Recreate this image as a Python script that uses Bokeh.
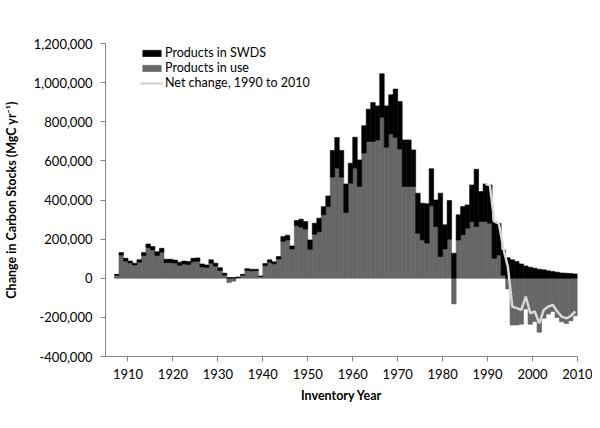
from bokeh.plotting import figure
from bokeh.models import ColumnDataSource, Range1d, NumeralTickFormatter, FixedTicker, Legend, LegendItem
from bokeh.transform import dodge
from bokeh.embed import file_html
from bokeh.resources import INLINE

years = list(range(1908, 2011))

products_in_use = [
    15000, 119000, 88000, 78000, 68000, 82000, 116000, 157000, 145000, 116000,
    133000, 80000, 80000, 78000, 66000, 73000, 70000, 85000, 87000, 58000,
    55000, 77000, 62000, 40000, 16000, -22000, -15000, 4000, 15000, 40000,
    38000, 39000, 9000, 64000, 82000, 74000, 98000, 189000, 196000, 150000,
    268000, 262000, 251000, 148000, 225000, 238000, 324000, 366000, 517000, 563000,
    517000, 336000, 486000, 563000, 469000, 640000, 699000, 699000, 707000, 823000,
    670000, 738000, 720000, 660000, 469000, 469000, 469000, 230000, 196000, 180000,
    370000, 264000, 111000, 150000, 200000, -131000, 196000, 222000, 256000, 290000,
    264000, 290000, 290000, 281000, 102000, 119000, 15000, -55000, -239000, -239000,
    -235000, -157000, -235000, -221000, -276000, -205000, -183000, -170000, -201000, -223000,
    -231000, -217000, -192000,
]

products_in_swds = [
    5000, 12000, 14000, 10000, 9000, 13000, 15000, 18000, 17000, 20000,
    20000, 17000, 17000, 15000, 16000, 15000, 15000, 17000, 17000, 15000,
    13000, 17000, 15000, 14000, 10000, 4000, 4000, 2000, 5000, 9000,
    8000, 7000, 3000, 11000, 12000, 10000, 13000, 24000, 24000, 15000,
    27000, 40000, 39000, 48000, 56000, 69000, 42000, 55000, 136000, 156000,
    136000, 146000, 102000, 158000, 136000, 140000, 165000, 199000, 174000, 222000,
    211000, 200000, 247000, 243000, 238000, 238000, 187000, 205000, 188000, 201000,
    190000, 136000, 324000, 123000, 197000, 128000, 128000, 145000, 119000, 187000,
    293000, 153000, 192000, 196000, 188000, 162000, 130000, 105000, 94000, 85000,
    73000, 63000, 56000, 51000, 46000, 43000, 38000, 34000, 31000, 27000,
    26000, 24000, 22000,
]

net_years = list(range(1990, 2011))
net_change = [
    482000, 477000, 290000, 281000, 153000, 60000, -145000, -153000, -162000, -94000,
    -179000, -170000, -230000, -162000, -145000, -136000, -170000, -196000, -205000, -193000,
    -170000,
]

x_ticks = [1910, 1920, 1930, 1940, 1950, 1960, 1970, 1980, 1990, 2000, 2010]
y_ticks = [-400000, -200000, 0, 200000, 400000, 600000, 800000, 1000000, 1200000]

use_top = products_in_use
swds_bottom = [max(u, 0) for u in products_in_use]
swds_top = [b + s for b, s in zip(swds_bottom, products_in_swds)]

src = ColumnDataSource(dict(year=years, use_top=use_top, swds_bottom=swds_bottom, swds_top=swds_top))
net_src = ColumnDataSource(dict(year=net_years, net=net_change))

FONT = "Lato"

p = figure(width=592, height=412, output_backend="svg", toolbar_location=None,
           x_range=Range1d(1905, 2010), y_range=Range1d(-400000, 1200000),
           min_border_left=105, min_border_right=15, min_border_top=43, min_border_bottom=56)
p.outline_line_color = None
p.xgrid.grid_line_color = None
p.ygrid.grid_line_color = None
p.background_fill_color = "white"

r_use = p.vbar(x=dodge("year", -0.5, range=p.x_range), bottom=0, top="use_top", width=1.0,
               source=src, fill_color="#666666", line_color="#666666", line_width=0.6)
r_swds = p.vbar(x=dodge("year", -0.5, range=p.x_range), bottom="swds_bottom", top="swds_top", width=1.0,
                source=src, fill_color="#000000", line_color="#000000", line_width=0.6)
r_net = p.line(x=dodge("year", -0.5, range=p.x_range), y="net", source=net_src,
               line_color="#d9d9d9", line_width=2.5)

for ax in (p.xaxis[0], p.yaxis[0]):
    ax.axis_line_color = "#868686"
    ax.major_tick_line_color = "#868686"
    ax.minor_tick_line_color = None
    ax.major_tick_in = 0
    ax.major_tick_out = 5
    ax.major_label_text_font = FONT
    ax.major_label_text_font_size = "13px"
    ax.major_label_text_color = "#000000"
    ax.axis_label_text_font = FONT
    ax.axis_label_text_font_size = "12.5px"
    ax.axis_label_text_font_style = "bold"
    ax.axis_label_text_color = "#000000"

p.xaxis.ticker = FixedTicker(ticks=x_ticks)
p.yaxis.ticker = FixedTicker(ticks=y_ticks)
p.yaxis.formatter = NumeralTickFormatter(format="0,0")
p.xaxis.axis_label = "Inventory Year"
p.yaxis.axis_label = "Change in Carbon Stocks (MgC yr\u207b\u00b9)"
p.xaxis.major_label_standoff = 7
p.yaxis.major_label_standoff = 8
p.xaxis.axis_label_standoff = 6
p.yaxis.axis_label_standoff = 12

legend = Legend(items=[
    LegendItem(label="Products in SWDS", renderers=[r_swds]),
    LegendItem(label="Products in use", renderers=[r_use]),
    LegendItem(label="Net change, 1990 to 2010", renderers=[r_net]),
], location=(35, 266))
legend.background_fill_alpha = 0
legend.border_line_color = None
legend.padding = 0
legend.spacing = 0
legend.margin = 0
legend.label_height = 14
legend.glyph_height = 8
legend.glyph_width = 23
legend.label_standoff = 2
legend.label_text_font = FONT
legend.label_text_font_size = "12.5px"
legend.label_text_color = "#000000"
p.add_layout(legend)

open("out.html", "w").write(file_html(p, INLINE))
